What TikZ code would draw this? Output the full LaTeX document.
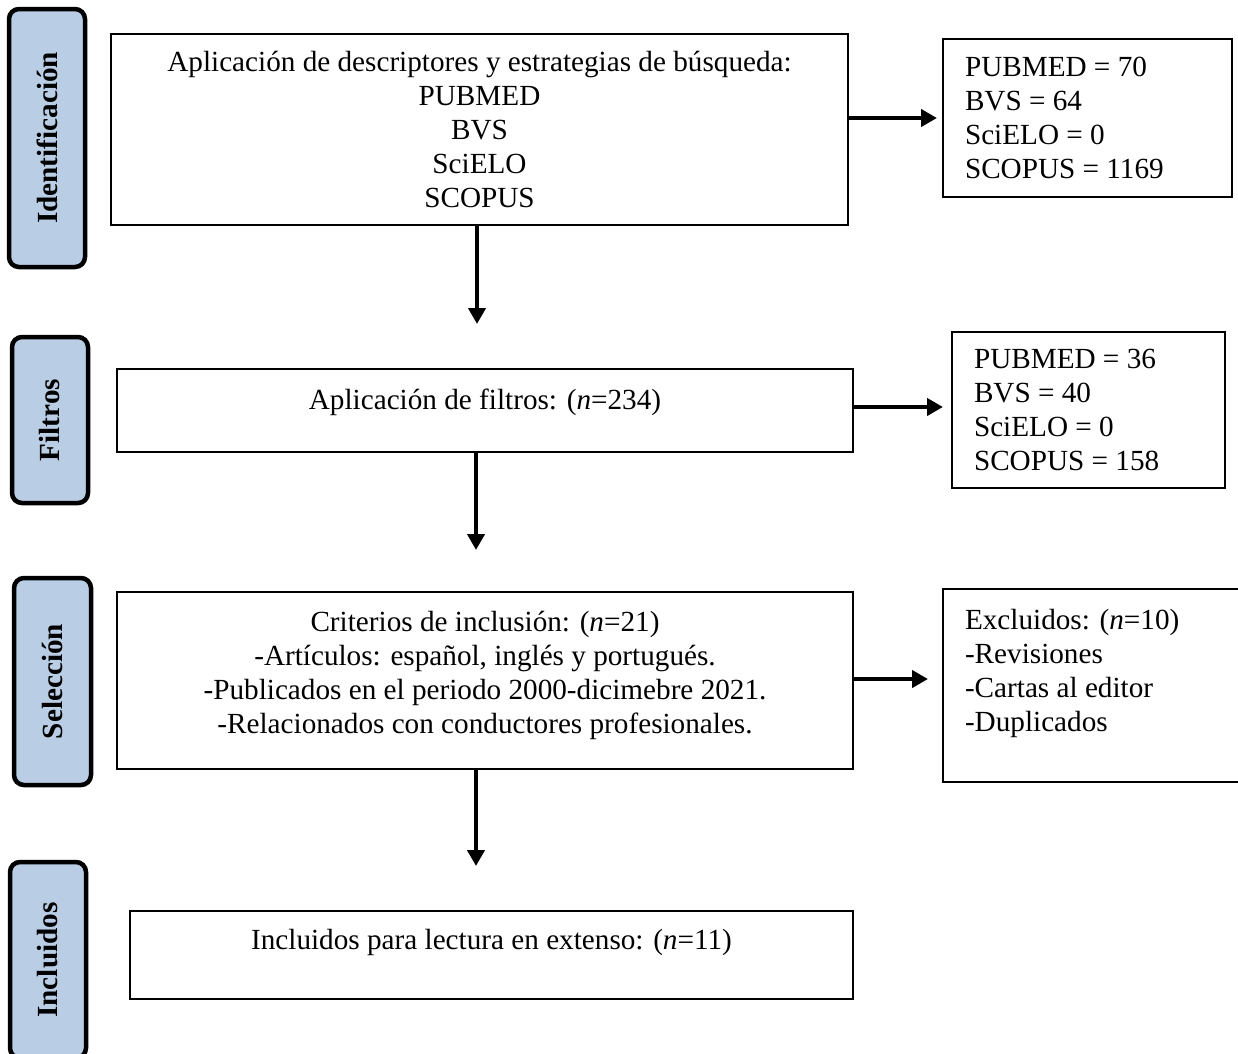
\documentclass[tikz,border=0pt]{standalone}
\usepackage{fontspec}
\setmainfont{Liberation Serif}
\usetikzlibrary{arrows.meta}
\definecolor{stageblue}{RGB}{185,205,229}
\tikzset{stagelabel/.style={draw, line width=4.5pt, fill=stageblue, rounded corners=10pt,
         rotate=90, inner sep=0pt, font=\fontsize{29.2}{34}\selectfont\bfseries},
         mainbox/.style={draw, line width=2.5pt, align=center, inner sep=0pt},
         countbox/.style={draw, line width=2.5pt, align=flush left, inner xsep=22pt, inner ysep=0pt},
         flow/.style={line width=4pt, -{Triangle[length=16pt,width=17pt]}}}

\begin{document}
\begin{tikzpicture}[x=1pt, y=-1pt, font=\fontsize{29.2}{34}\selectfont]
  \useasboundingbox (0,0) rectangle (1238,1053);

  \node[stagelabel, minimum width=258pt, minimum height=76pt] (ident) at (47,138) {Identificación};
  \node[stagelabel, minimum width=166pt, minimum height=76pt] (filt) at (50,420) {Filtros};
  \node[stagelabel, minimum width=207pt, minimum height=77pt] (selec) at (52.5,681.5) {Selección};
  \node[stagelabel, minimum width=196pt, minimum height=76pt] (incl) at (48,960) {Incluidos};

  \node[mainbox, minimum width=737pt, minimum height=191pt] (busqueda) at (479.5,129.5)
    {Aplicación de descriptores y estrategias de búsqueda:\\PUBMED\\BVS\\SciELO\\SCOPUS};
  \node[mainbox, minimum width=736pt, minimum height=83pt, text height=20pt, text depth=22pt] (filtros) at (485,410.5)
    {Aplicación de filtros: (\textit{n}=234)};
  \node[mainbox, minimum width=736pt, minimum height=177pt, text depth=16pt] (criterios) at (485,680.5)
    {Criterios de inclusión: (\textit{n}=21)\\-Artículos: español, inglés y portugués.\\-Publicados en el periodo 2000-dicimebre 2021.\\-Relacionados con conductores profesionales.};
  \node[mainbox, minimum width=723pt, minimum height=88pt, text height=20pt, text depth=31pt] (incluidos) at (491.5,955)
    {Incluidos para lectura en extenso: (\textit{n}=11)};

  \node[countbox, minimum width=289pt, minimum height=158pt, text width=245pt] (bases) at (1087.5,118)
    {PUBMED = 70\\BVS = 64\\SciELO = 0\\SCOPUS = 1169};
  \node[countbox, minimum width=273pt, minimum height=156pt, text width=229pt] (filtrados) at (1088.5,410)
    {PUBMED = 36\\BVS = 40\\SciELO = 0\\SCOPUS = 158};
  \node[countbox, minimum width=302pt, minimum height=193pt, text width=258pt, text depth=132pt] (excluidos) at (1094,685.5)
    {Excluidos: (\textit{n}=10)\\-Revisiones\\-Cartas al editor\\-Duplicados};

  \coordinate (d1) at (477,324);
  \coordinate (d2) at (476,550);
  \coordinate (d3) at (476,866);
  \coordinate (r1) at (937,118);
  \coordinate (r2) at (943,407);
  \coordinate (r3) at (928,679);

  \draw[flow] (busqueda.south -| d1) -- (d1);
  \draw[flow] (filtros.south -| d2) -- (d2);
  \draw[flow] (criterios.south -| d3) -- (d3);
  \draw[flow] (busqueda.east |- r1) -- (r1);
  \draw[flow] (filtros.east |- r2) -- (r2);
  \draw[flow] (criterios.east |- r3) -- (r3);
\end{tikzpicture}
\end{document}
